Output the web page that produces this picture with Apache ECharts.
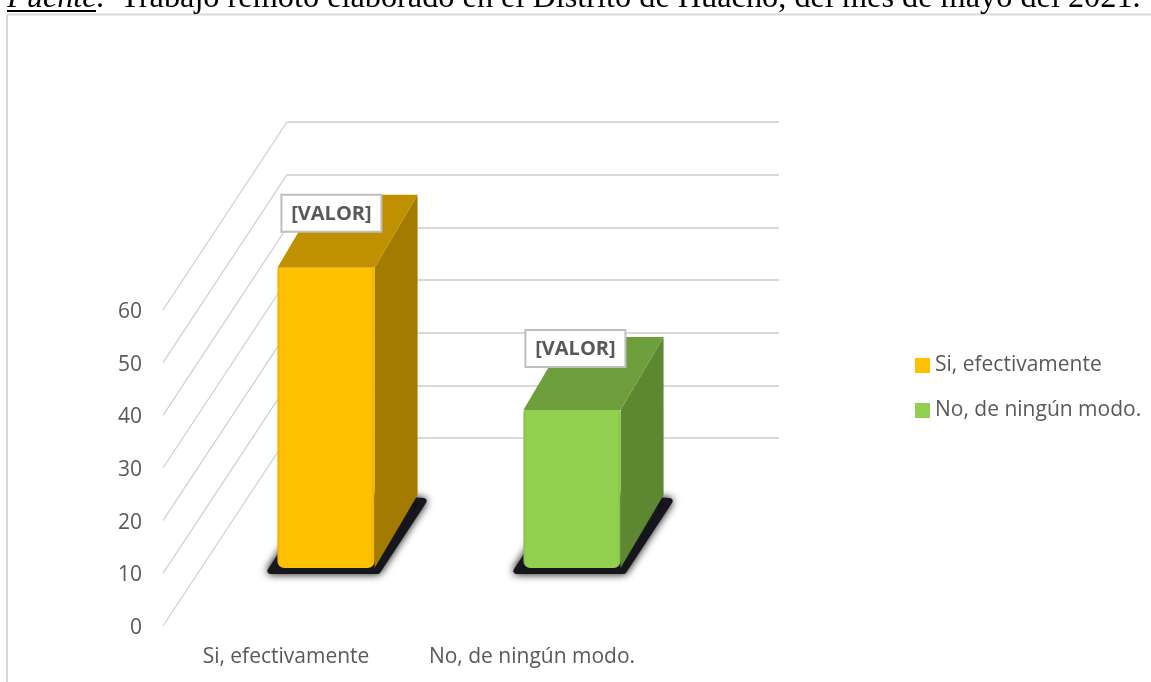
<!DOCTYPE html>
<html>
<head>
<meta charset="utf-8">
<style>
  html, body { margin: 0; padding: 0; background: #ffffff; }
  #chart { width: 1151px; height: 682px; }
</style>
<script src="https://cdn.jsdelivr.net/npm/echarts@6/dist/echarts.min.js"></script>
</head>
<body>
<div id="chart"></div>
<script>
const categories = ["Si, efectivamente", "No, de ningún modo."];
const barValues = [57, 30];
const barLabels = ["[VALOR]", "[VALOR]"];
const axisTicks = [0, 10, 20, 30, 40, 50, 60];

// front, top, side colours of each bar
const barColors = [
  { front: "#FFC000", edge: "#EDB200", top: "#BF9000", side: "#A37B00" },
  { front: "#92D050", edge: "#86C049", top: "#6F9E3C", side: "#5E8731" }
];
// label box position, relative to the top left corner of the bar front
const labelShift = [[4, -73], [2, -80]];

const uiFont = '"Open Sans", sans-serif';
const gridColor = "#d9d9d9";
const textColor = "#595959";

// depth of the 3d box, as pixels from front to back wall
const depthX = 124;
const depthY = -188;
// where the bar front sits on the floor, and how deep the bar is
const barFrontX = 40;
const barFrontY = -58;
const barDepthX = 43;
const barDepthY = -73;

function drawBar(index) {
  return function (params, api) {
    const base = api.coord([api.value(0), 0]);
    const high = api.coord([api.value(0), api.value(1)]);
    const width = api.size([1, 0])[0] * 0.395;
    const colors = barColors[index];

    const x0 = base[0] - width / 2 + barFrontX;
    const x1 = x0 + width;
    const y0 = base[1] + barFrontY;
    const top = high[1] + barFrontY;
    const dx = barDepthX;
    const dy = barDepthY;

    const shift = labelShift[index];
    const boxX = x0 + shift[0];
    const boxY = top + shift[1];

    return {
      type: "group",
      children: [
        // soft dark shadow on the floor
        {
          type: "polygon",
          shape: {
            points: [[x0 - 7, y0 + 3], [x1 + 3, y0 + 3], [x1 + dx + 6, y0 + dy + 6], [x0 + dx, y0 + dy]]
          },
          style: {
            fill: "#20222c",
            stroke: "#16161c",
            lineWidth: 6,
            lineJoin: "round",
            shadowBlur: 8,
            shadowColor: "rgba(0,0,0,0.85)"
          }
        },
        {
          type: "polygon",
          shape: { points: [[x1, y0], [x1 + dx, y0 + dy], [x1 + dx, top + dy], [x1, top]] },
          style: { fill: colors.side }
        },
        {
          type: "polygon",
          shape: { points: [[x0, top], [x1, top], [x1 + dx, top + dy], [x0 + dx, top + dy]] },
          style: { fill: colors.top }
        },
        {
          type: "rect",
          shape: { x: x0, y: top, width: width, height: y0 - top, r: [2, 2, 7, 7] },
          style: {
            fill: {
              type: "linear", x: 0, y: 0, x2: 1, y2: 0,
              colorStops: [
                { offset: 0, color: colors.edge },
                { offset: 0.03, color: colors.front },
                { offset: 0.96, color: colors.front },
                { offset: 1, color: colors.edge }
              ]
            }
          }
        },
        {
          type: "rect",
          shape: { x: boxX, y: boxY, width: 100, height: 37 },
          style: { fill: "#ffffff", stroke: "#bfbfbf", lineWidth: 2 }
        },
        {
          type: "text",
          style: {
            x: boxX + 50,
            y: boxY + 19,
            text: barLabels[index],
            fill: textColor,
            font: 'bold 20px ' + uiFont,
            align: "center",
            verticalAlign: "middle"
          }
        }
      ]
    };
  };
}

// side wall lines, running from the front edge back to the wall
function drawDiagonal(params, api) {
  const value = api.value(0);
  const y = api.coord([0, value])[1];
  const x = params.coordSys.x;
  return {
    type: "line",
    shape: { x1: x, y1: y, x2: x + depthX, y2: y + depthY },
    style: { stroke: "#cfcfcf", lineWidth: 1.2 }
  };
}

const myChart = echarts.init(document.getElementById("chart"));
myChart.setOption({
  backgroundColor: "#ffffff",
  animation: false,
  graphic: [
    {
      type: "line",
      shape: { x1: 7, y1: 14.5, x2: 1151, y2: 14.5 },
      style: { stroke: gridColor, lineWidth: 2 }
    },
    {
      type: "line",
      shape: { x1: 7, y1: 14.5, x2: 7, y2: 682 },
      style: { stroke: gridColor, lineWidth: 2 }
    },
    {
      type: "text",
      style: {
        x: 7, y: -17,
        text: "Fuente",
        fill: "#000000",
        font: 'italic 32.3px "Liberation Serif", serif'
      }
    },
    {
      type: "line",
      shape: { x1: 7, y1: 11, x2: 96, y2: 11 },
      style: { stroke: "#000000", lineWidth: 2 }
    },
    {
      type: "text",
      style: {
        x: 96, y: -17,
        text: ".  Trabajo remoto elaborado en el Distrito de Huacho, del mes de mayo del 2021.",
        fill: "#000000",
        font: '32.3px "Liberation Serif", serif'
      }
    }
  ],
  legend: {
    data: categories,
    orient: "vertical",
    left: 910,
    top: 350,
    icon: "rect",
    itemWidth: 15,
    itemHeight: 15,
    itemGap: 24,
    textStyle: {
      color: textColor,
      fontFamily: uiFont,
      fontSize: 21
    }
  },
  grid: [
    { left: 163, top: 310, width: 492, height: 316 },
    { left: 287, top: 122, width: 492, height: 316 }
  ],
  xAxis: [
    {
      type: "category",
      gridIndex: 0,
      data: categories,
      axisLine: { show: false },
      axisTick: { show: false },
      axisLabel: {
        interval: 0,
        hideOverlap: false,
        color: textColor,
        fontFamily: uiFont,
        fontSize: 21,
        margin: 21
      }
    },
    { type: "value", gridIndex: 1, min: 0, max: 1, show: false }
  ],
  yAxis: [
    {
      type: "value",
      gridIndex: 0,
      min: 0,
      max: 60,
      interval: 10,
      axisLine: { show: false },
      axisTick: { show: false },
      splitLine: { show: false },
      axisLabel: {
        margin: 21,
        formatter: "{tick|{value}}",
        rich: {
          tick: {
            color: textColor,
            fontFamily: uiFont,
            fontSize: 21,
            padding: [4, 0, 0, 0]
          }
        }
      }
    },
    {
      type: "value",
      gridIndex: 1,
      min: 0,
      max: 60,
      interval: 10,
      axisLine: { show: false },
      axisTick: { show: false },
      axisLabel: { show: false },
      splitLine: { show: true, lineStyle: { color: gridColor, width: 2 } }
    }
  ],
  series: [
    {
      type: "custom",
      name: "pared",
      xAxisIndex: 0,
      yAxisIndex: 0,
      silent: true,
      clip: false,
      data: axisTicks.map(v => [v]),
      encode: { y: 0 },
      renderItem: drawDiagonal
    },
    {
      type: "custom",
      name: categories[0],
      xAxisIndex: 0,
      yAxisIndex: 0,
      clip: false,
      itemStyle: { color: barColors[0].front },
      data: [[0, barValues[0]]],
      encode: { x: 0, y: 1 },
      renderItem: drawBar(0)
    },
    {
      type: "custom",
      name: categories[1],
      xAxisIndex: 0,
      yAxisIndex: 0,
      clip: false,
      itemStyle: { color: barColors[1].front },
      data: [[1, barValues[1]]],
      encode: { x: 0, y: 1 },
      renderItem: drawBar(1)
    }
  ]
});
</script>
</body>
</html>
